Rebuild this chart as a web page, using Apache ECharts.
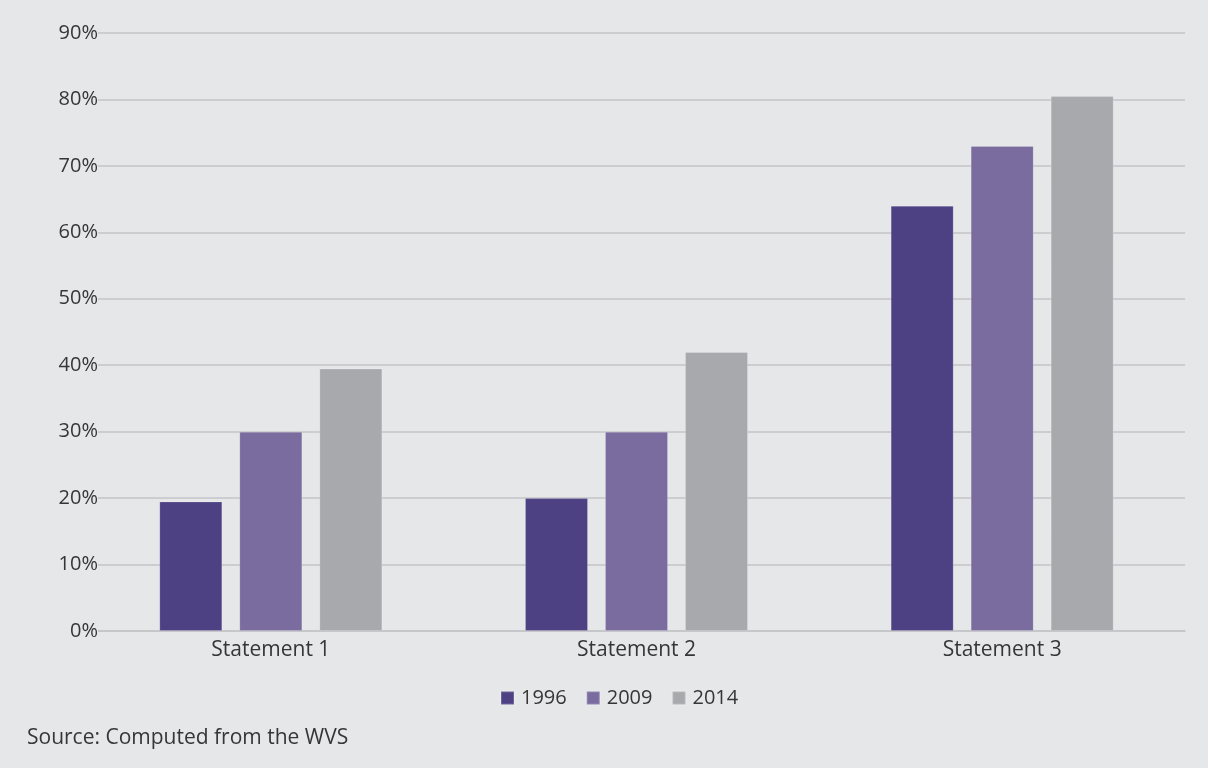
<!DOCTYPE html>
<html>
<head>
<meta charset="utf-8">
<script src="https://cdn.jsdelivr.net/npm/echarts@6/dist/echarts.min.js"></script>
<style>
  html, body { margin: 0; padding: 0; background: #e6e7e9; }
  #chart { width: 1208px; height: 768px; }
</style>
</head>
<body>
<div id="chart"></div>
<script>
// Share of respondents agreeing, by survey wave (percent)
const categories = ['Statement 1', 'Statement 2', 'Statement 3'];
const years = ['1996', '2009', '2014'];
const values1996 = [19.5, 20, 64];
const values2009 = [30, 30, 73];
const values2014 = [39.5, 42, 80.5];
const yTicks = { min: 0, max: 90, interval: 10 };
const sourceNote = 'Source: Computed from the WVS';

const colors = ['#4e4183', '#7a6c9e', '#a8a9ad'];
const seriesValues = [values1996, values2009, values2014];
const FONT = '"Open Sans", sans-serif';
const BG = '#e6e7e9';
const TEXT = '#363636';

const chart = echarts.init(document.getElementById('chart'), null, { renderer: 'canvas' });

chart.setOption({
  backgroundColor: BG,
  animation: false,
  textStyle: { fontFamily: FONT },
  grid: { left: 88, right: 23, top: 33, bottom: 137, containLabel: false },
  title: {
    text: sourceNote,
    left: 22,
    top: 723,
    textStyle: { fontFamily: FONT, fontSize: 21, fontWeight: 'normal', color: TEXT }
  },
  legend: {
    data: years,
    left: 495,
    top: 683,
    itemWidth: 13,
    itemHeight: 13,
    itemGap: 19,
    icon: 'rect',
    textStyle: { fontFamily: FONT, fontSize: 20, color: TEXT, padding: [0, 0, 0, 2] }
  },
  xAxis: {
    type: 'category',
    data: categories,
    axisLine: { show: true, lineStyle: { color: '#c4c5c8', width: 1.5 } },
    axisTick: { show: false },
    axisLabel: { fontFamily: FONT, fontSize: 21, color: TEXT, margin: 9 }
  },
  yAxis: {
    type: 'value',
    min: yTicks.min,
    max: yTicks.max,
    interval: yTicks.interval,
    axisLine: { show: false },
    axisTick: { show: false },
    splitLine: { lineStyle: { color: '#c4c5c8', width: 1.5 } },
    axisLabel: {
      formatter: '{value}%',
      fontFamily: FONT,
      fontSize: 20,
      color: TEXT,
      margin: -10,
      backgroundColor: BG,
      padding: [0, 0, 0, 0]
    }
  },
  series: years.map((y, i) => ({
    name: y,
    type: 'bar',
    data: seriesValues[i],
    barWidth: 63,
    barGap: '27%',
    itemStyle: {
      color: colors[i],
      borderColor: 'rgba(255,255,255,0.18)',
      borderWidth: 1
    }
  })),
  color: colors
});
</script>
</body>
</html>
